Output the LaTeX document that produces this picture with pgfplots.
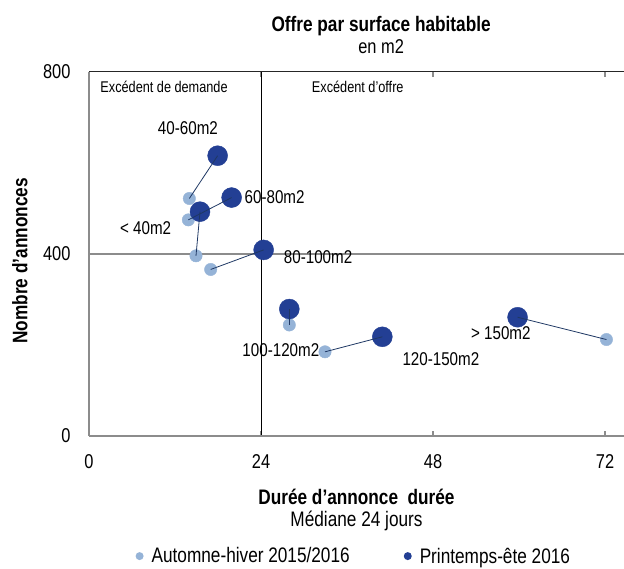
\documentclass[border=0pt]{standalone}
\usepackage{fontspec}
\setmainfont{Liberation Sans}[FakeStretch=0.82]
\usepackage{pgfplots}
\pgfplotsset{compat=1.18}
\usetikzlibrary{calc}
\definecolor{lightb}{HTML}{95B3D7}
\definecolor{darkb}{HTML}{233F94}
\definecolor{linec}{HTML}{1F3864}
\definecolor{axgray}{HTML}{8C8C8C}

\pgfplotstableread{
x y
14.93 396
14.00 522
13.86 475
16.98 366
27.95 244
32.93 185
72.20 212
}\autumn
\pgfplotstableread{
x y
15.49 493
17.95 616
19.90 524
24.37 409
27.95 279
40.93 218
59.80 261
}\spring

\begin{document}
\begin{tikzpicture}
\begin{axis}[
 name=ax,
 scale only axis,
 width=535bp, height=364bp,
 xmin=0, xmax=74.65, ymin=0, ymax=800,
 axis line style={draw=none},
 xtick={0,24,48,72}, ytick={0,400,800},
 tick align=inside,
 major tick length=5bp,
 x tick style={axgray, line width=1.2bp},
 y tick style={draw=none},
 ticklabel style={font=\fontsize{20bp}{24bp}\selectfont},
 /pgf/number format/assume math mode=true,
 xticklabel style={yshift=-15bp},
 yticklabel style={xshift=-15bp},
 clip mode=individual,
 legend columns=2,
 legend style={at={(0.495,-0.33)}, anchor=center, draw=none, fill=none,
   font=\fontsize{21bp}{24bp}\selectfont,
   /tikz/every even column/.append style={column sep=52bp}},
]
\draw[axgray, line width=1.5bp] (axis cs:0,400) -- (axis cs:74.65,400);
\draw[black!85, line width=1bp] (axis cs:0,800) -- (axis cs:74.65,800);
\draw[black, line width=0.9bp] (axis cs:24,0) -- (axis cs:24,800);
\draw[axgray, line width=1.5bp] (axis cs:0,0) -- (axis cs:0,800);
\draw[axgray, line width=1.5bp] (axis cs:0,0) -- (axis cs:74.65,0);

\addlegendimage{legend image code/.code={\fill[lightb, draw=none] (0bp,0bp) circle (4bp); \path[draw=none, fill=none] (-4bp,0bp) -- (10bp,0bp);}}
\addlegendentry{Automne-hiver 2015/2016}
\addlegendimage{legend image code/.code={\fill[darkb, draw=none] (0bp,0bp) circle (4bp); \path[draw=none, fill=none] (-4bp,0bp) -- (10bp,0bp);}}
\addlegendentry{Printemps-ête 2016}

\addplot[only marks, mark=*, mark size=6.2bp, color=lightb, forget plot] table[x=x,y=y] {\autumn};
\addplot[only marks, mark=*, mark size=10bp, color=darkb, forget plot] table[x=x,y=y] {\spring};

\addplot[linec, line width=0.8bp, forget plot] coordinates {(14.93,396) (15.49,493)};
\addplot[linec, line width=0.8bp, forget plot] coordinates {(14.00,522) (17.95,616)};
\addplot[linec, line width=0.8bp, forget plot] coordinates {(13.86,475) (19.90,524)};
\addplot[linec, line width=0.8bp, forget plot] coordinates {(16.98,366) (24.37,409)};
\addplot[linec, line width=0.8bp, forget plot] coordinates {(27.95,244) (27.95,279)};
\addplot[linec, line width=0.8bp, forget plot] coordinates {(32.93,185) (40.93,218)};
\addplot[linec, line width=0.8bp, forget plot] coordinates {(72.20,212) (59.80,261)};

\begin{scope}[every node/.style={font=\fontsize{18.5bp}{22bp}\selectfont, inner sep=0pt}]
\node at (axis cs:13.8,677) {40-60m2};
\node at (axis cs:25.9,526) {60-80m2};
\node at (axis cs:7.9,456) {< 40m2};
\node at (axis cs:31.96,394) {80-100m2};
\node at (axis cs:26.77,189) {100-120m2};
\node at (axis cs:49.1,168.6) {120-150m2};
\node at (axis cs:57.46,225.7) {> 150m2};
\end{scope}
\begin{scope}[every node/.style={font=\fontsize{15.5bp}{18bp}\selectfont, inner sep=0pt}]
\node at (axis cs:10.47,767.7) {Excédent de demande};
\node at (axis cs:37.5,767.7) {Excédent d’offre};
\end{scope}
\node[font=\bfseries\fontsize{21bp}{24bp}\selectfont] at (rel axis cs:0.546,1.126) {Offre par surface habitable};
\node[font=\fontsize{20bp}{24bp}\selectfont] at (rel axis cs:0.546,1.069) {en m2};
\node[font=\bfseries\fontsize{21bp}{24bp}\selectfont] at (rel axis cs:0.50,-0.168) {Durée d’annonce\ \ durée};
\node[font=\fontsize{21bp}{24bp}\selectfont] at (rel axis cs:0.50,-0.2335) {Médiane 24 jours};
\node[rotate=90, font=\bfseries\fontsize{21bp}{24bp}\selectfont] at (rel axis cs:-0.129,0.481) {Nombre d’annonces};
\end{axis}
\pgfresetboundingbox
\path ($(ax.south west)+(-89bp,-133bp)$) rectangle ($(ax.north east)+(0bp,72bp)$);
\end{tikzpicture}
\end{document}
